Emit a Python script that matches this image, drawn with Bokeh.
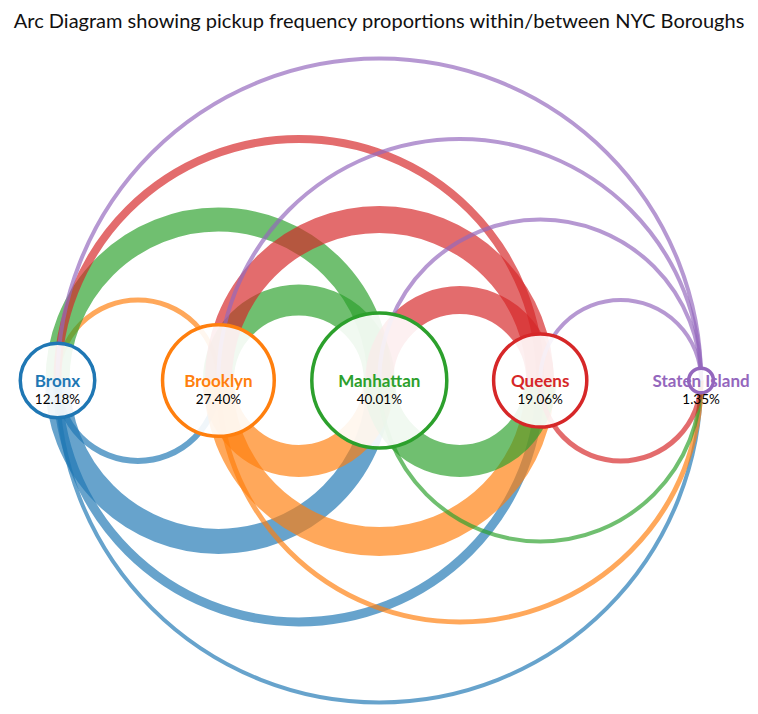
import numpy as np
from bokeh.plotting import figure
from bokeh.models import Range1d, ColumnDataSource, Label
from bokeh.core.properties import value
from bokeh.embed import file_html
from bokeh.resources import INLINE

# ---------------- data ----------------
boroughs = ["Bronx", "Brooklyn", "Manhattan", "Queens", "Staten Island"]
pickup_share = [12.18, 27.40, 40.01, 19.06, 1.35]
colors = ["#1f77b4", "#ff7f0e", "#2ca02c", "#d62728", "#9467bd"]

# pickup frequency proportions, origin (row) -> destination (column)
flow_bronx = [0.0, 0.6, 2.5, 0.9, 0.4]
flow_brooklyn = [0.5, 0.0, 3.2, 2.9, 0.5]
flow_manhattan = [2.4, 3.1, 0.0, 3.2, 0.4]
flow_queens = [0.8, 2.7, 2.8, 0.0, 0.5]
flow_staten = [0.4, 0.4, 0.4, 0.4, 0.0]
flows = [flow_bronx, flow_brooklyn, flow_manhattan, flow_queens, flow_staten]

# ---------------- layout ----------------
W, H = 750, 706
PX = 160.9            # pixels per node spacing unit
X0, Y0 = 57, 380      # node 0 position inside the frame (px)
WIDTH_SCALE = 10.0    # px of stroke per flow unit
R_SCALE = 10.67       # px of circle radius per sqrt(percent)

p = figure(width=W, height=H, output_backend="svg", toolbar_location=None,
           x_range=Range1d(-X0 / PX, (W - X0) / PX),
           y_range=Range1d(-(H - Y0) / PX, Y0 / PX),
           min_border=0)
p.axis.visible = False
p.grid.visible = False
p.outline_line_color = None
p.background_fill_color = "white"
p.border_fill_color = "white"

# arcs
ax, ay, ar, a0, a1, aw, ac = [], [], [], [], [], [], []
for i in range(len(boroughs)):
    for j in range(len(boroughs)):
        if i == j or flows[i][j] <= 0:
            continue
        ax.append((i + j) / 2)
        ay.append(0.0)
        ar.append(abs(i - j) / 2)
        if i < j:
            a0.append(np.pi); a1.append(2 * np.pi)
        else:
            a0.append(0.0); a1.append(np.pi)
        aw.append(flows[i][j] * WIDTH_SCALE)
        ac.append(colors[i])
arc_src = ColumnDataSource(dict(x=ax, y=ay, r=ar, s=a0, e=a1, w=aw, c=ac))
p.arc(x="x", y="y", radius="r", start_angle="s", end_angle="e",
      direction="anticlock", line_width="w", line_color="c", line_alpha=0.68,
      line_cap="butt", source=arc_src)

# nodes
idx = list(range(len(boroughs)))
node_r = [np.sqrt(v) * R_SCALE / PX for v in pickup_share]
node_src = ColumnDataSource(dict(
    x=idx, y=[0.0] * len(idx), r=node_r, c=colors, name=boroughs,
    pct=["%.2f%%" % v for v in pickup_share],
    ny=[0.0] * len(idx), py=[-18 / PX] * len(idx)))
p.circle(x="x", y="y", radius="r", fill_color="white", fill_alpha=0.9,
         line_color="c", line_width=3.5, source=node_src)

p.text(x="x", y="ny", text="name", text_color="c", text_align="center",
       text_baseline="middle", text_font=value("Lato"), text_font_size="17px",
       text_font_style="bold", source=node_src)
p.text(x="x", y="py", text="pct", text_color="black", text_align="center",
       text_baseline="middle", text_font=value("Lato"), text_font_size="13.5px",
       source=node_src)

title = Label(x=(379 - 57) / PX, y=(380 - 19) / PX,
              text="Arc Diagram showing pickup frequency proportions within/between NYC Boroughs",
              text_align="center", text_baseline="middle", text_font="Lato",
              text_font_size="20px", text_color="#111111")
p.add_layout(title)

open("out.html", "w").write(file_html(p, INLINE))
